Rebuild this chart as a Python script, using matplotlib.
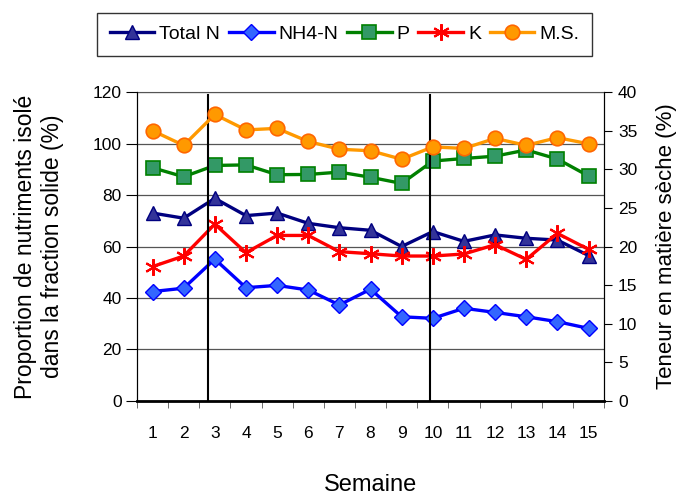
import matplotlib
matplotlib.use("Agg")
import matplotlib.pyplot as plt

plt.rcParams["font.family"] = ["Liberation Sans", "DejaVu Sans"]

# Data
semaines = list(range(1, 16))
total_n = [73, 71, 78.7, 72, 73, 69, 67.3, 66.3, 60, 65.8, 62, 64.5, 63.2, 62.5, 56.5]
nh4_n = [42.5, 43.8, 55.1, 44, 44.9, 43.1, 37.3, 43.4, 32.7, 32.1, 36, 34.4, 32.7, 30.8, 28.2]
p = [90.6, 87.1, 91.5, 91.7, 87.9, 88.0, 88.9, 86.9, 84.5, 93.2, 94.2, 95.1, 97.5, 94.0, 87.4]
k = [52.2, 56.3, 68.7, 57.6, 64.3, 64.3, 58, 57.2, 56.3, 56.3, 57.1, 60.7, 55, 65.1, 58.9]
ms = [35.0, 33.1, 37.1, 35.1, 35.3, 33.6, 32.6, 32.4, 31.3, 32.9, 32.7, 34.0, 33.1, 34.1, 33.3]
separations = [2.78, 9.91]

fig = plt.figure(figsize=(6.78, 4.95), dpi=100)
ax = fig.add_axes([0.202, 0.19, 0.689, 0.624])
ax2 = ax.twinx()

lw = 2.4
h1, = ax.plot(semaines, total_n, color="#000080", lw=lw, marker="^", ms=10.5,
              mfc="#333399", mec="#000080", mew=1, label="Total N")
h2, = ax.plot(semaines, nh4_n, color="#0000FF", lw=lw, marker="D", ms=8.5,
              mfc="#3366FF", mec="#0000FF", mew=1, label="NH4-N")
h3, = ax.plot(semaines, p, color="#008000", lw=lw, marker="s", ms=10,
              mfc="#339966", mec="#008000", mew=1.2, label="P")
h4, = ax.plot(semaines, k, color="#FF0000", lw=lw, marker=(6, 2, 0), ms=12,
              mec="#FF0000", mew=1.5, label="K")
h5, = ax2.plot(semaines, ms, color="#FF9900", lw=lw, marker="o", ms=10.5,
               mfc="#FF9900", mec="#FF6600", mew=1.2, label="M.S.")

for xv in separations:
    ax.axvline(xv, ymin=0, ymax=0.99, color="black", lw=1.5, zorder=5)

ax.set_xlim(0.5, 15.5)
ax.set_ylim(0, 120)
ax.set_yticks(range(0, 121, 20))
ax2.set_ylim(0, 40)
ax2.set_yticks(range(0, 41, 5))
ax.set_xticks(semaines)
ax.set_xticks([i + 0.5 for i in range(0, 16)], minor=True)
ax.tick_params(axis="x", which="major", length=0, labelsize=12.5, pad=18)
ax.tick_params(axis="x", which="minor", length=5, direction="out", color="#555555")
ax.tick_params(axis="y", labelsize=12.5, length=8, direction="out", pad=3)
ax2.tick_params(axis="y", labelsize=12.5, length=6, direction="out", pad=4)

ax.grid(axis="y", color="#555555", lw=0.9)
ax.set_axisbelow(True)
ax.spines["bottom"].set_linewidth(2)
ax.spines["top"].set_color("#555555")
ax2.spines["top"].set_visible(False)
ax2.spines["bottom"].set_visible(False)

ax.set_ylabel("Proportion de nutriments isolé\ndans la fraction solide (%)",
              fontsize=16.5, labelpad=21)
ax2.set_ylabel("Teneur en matière sèche (%)", fontsize=16, labelpad=13)
ax.set_xlabel("Semaine", fontsize=17, labelpad=24)

leg = fig.legend(handles=[h1, h2, h3, h4, h5], loc="upper center",
                 bbox_to_anchor=(0.508, 1 - 13 / 495), ncol=5, fontsize=14,
                 frameon=True, fancybox=False, edgecolor="black",
                 handlelength=2.3, handletextpad=0.25, columnspacing=0.45,
                 borderpad=0.65, borderaxespad=0)
leg.get_frame().set_linewidth(1)

fig.savefig("out.png", dpi=100)
